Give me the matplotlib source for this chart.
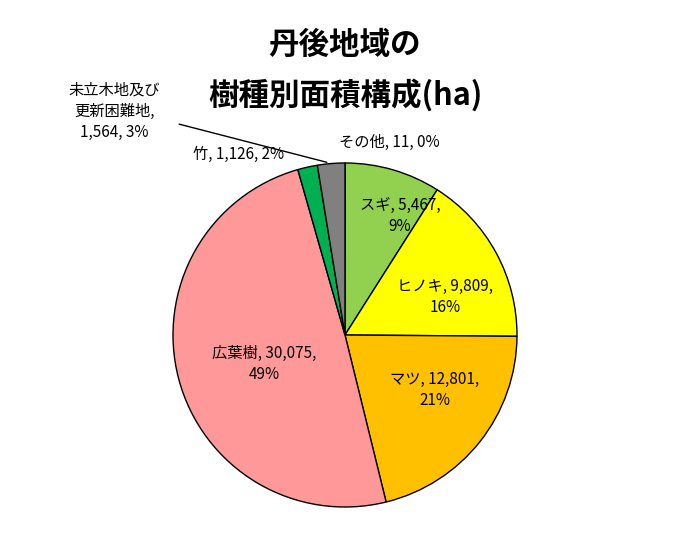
import matplotlib
matplotlib.use("Agg")
import matplotlib.pyplot as plt

plt.rcParams['font.family'] = ['Noto Sans CJK JP', 'DejaVu Sans']

names = ["その他", "スギ", "ヒノキ", "マツ", "広葉樹", "竹", "未立木地及び\n更新困難地"]
values = [11, 5467, 9809, 12801, 30075, 1126, 1564]
colors = ["#7F7F7F", "#92D050", "#FFFF00", "#FFC000", "#FF9999", "#00B050", "#808080"]
total = sum(values)
pcts = [round(v / total * 100) for v in values]

fig = plt.figure(figsize=(6.9, 5.6), dpi=100)
ax = fig.add_axes([173/690, 53/560, 344/690, 344/560])
ax.pie(values, colors=colors, startangle=90, counterclock=False,
       wedgeprops=dict(edgecolor="black", linewidth=1.0), radius=1)
ax.set_xlim(-1, 1); ax.set_ylim(-1, 1); ax.set_aspect('equal')
ax.set_clip_on(False)

fs = 11
def lab(i, x, y, ha="center", split=True):
    v = f"{values[i]:,}"
    if split:
        t = f"{names[i]}, {v},\n{pcts[i]}%"
    else:
        t = f"{names[i]}, {v}, {pcts[i]}%"
    ax.text(x, y, t, ha=ha, va="center", fontsize=fs, linespacing=1.3, clip_on=False)

lab(0, 0.26, 1.12, split=False)
lab(1, 0.32, 0.69)
lab(2, 0.58, 0.22)
lab(3, 0.52, -0.32)
lab(4, -0.47, -0.17)
lab(5, -0.62, 1.05, split=False)
ax.text(-1.34, 1.30, f"未立木地及び\n更新困難地,\n{values[6]:,}, {pcts[6]}%",
        ha="center", va="center", fontsize=fs, linespacing=1.3, clip_on=False)
ax.annotate("", xy=(-0.09, 1.0), xytext=(-0.98, 1.23),
            arrowprops=dict(arrowstyle="-", color="black", lw=1), annotation_clip=False)

fig.text(0.5, 1 - 45/560, "丹後地域の", ha="center", va="center", fontsize=22, fontweight="bold")
fig.text(0.5, 1 - 95/560, "樹種別面積構成(ha)", ha="center", va="center", fontsize=22, fontweight="bold")

fig.savefig("out.png", dpi=100)
